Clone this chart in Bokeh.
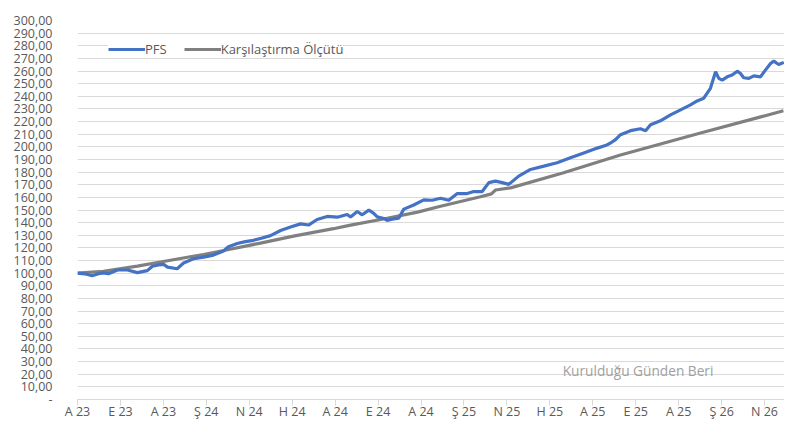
from bokeh.plotting import figure
from bokeh.models import FixedTicker, Legend, LegendItem, Label
from bokeh.embed import file_html
from bokeh.resources import INLINE

# x values are months since August 2023
x_tick_pos = [0, 2, 4, 6, 8, 10, 12, 14, 16, 18, 20, 22, 24, 26, 28, 30, 32]
x_tick_labels = ["A 23", "E 23", "A 23", "Ş 24", "N 24", "H 24", "A 24", "E 24", "A 24",
                 "Ş 25", "N 25", "H 25", "A 25", "E 25", "A 25", "Ş 26", "N 26"]

y_tick_pos = list(range(0, 301, 10))
y_tick_labels = ["-"] + [f"{v},00" for v in range(10, 301, 10)]

pfs_x = [0.00, 0.33, 0.68, 0.98, 1.21, 1.44, 1.86, 2.33, 2.79, 3.25, 3.49, 3.77, 4.01, 4.19,
         4.64, 4.94, 5.40, 5.87, 6.33, 6.80, 7.03, 7.44, 7.82, 8.20, 8.52, 8.99, 9.46, 9.92,
         10.39, 10.76, 11.16, 11.63, 12.10, 12.56, 12.72, 13.03, 13.26, 13.57, 13.80, 13.96,
         14.27, 14.42, 14.66, 14.96, 15.20, 15.66, 16.13, 16.52, 16.91, 17.29, 17.69, 18.15,
         18.46, 18.85, 19.16, 19.47, 19.78, 20.09, 20.55, 21.10, 21.72, 22.34, 22.96, 23.58,
         24.21, 24.59, 24.83, 25.06, 25.29, 25.76, 26.22, 26.46, 26.69, 27.15, 27.62, 28.09,
         28.55, 28.86, 29.17, 29.48, 29.72, 29.87, 30.03, 30.26, 30.49, 30.73, 30.88, 31.03,
         31.27, 31.50, 31.81, 32.04, 32.28, 32.43, 32.66, 32.90]
pfs_y = [100.0, 99.5, 98.0, 99.5, 100.2, 99.6, 102.5, 102.5, 100.4, 102.0, 105.5, 106.5, 107.0, 104.8,
         103.5, 108.0, 111.4, 112.7, 114.3, 117.5, 121.0, 123.5, 125.0, 126.0, 127.5, 129.7, 133.8, 136.5,
         139.0, 138.1, 142.5, 144.9, 144.3, 146.4, 144.5, 148.8, 146.2, 149.9, 147.3, 144.6,
         143.3, 141.8, 142.8, 143.5, 150.7, 154.0, 158.0, 157.7, 159.3, 157.7, 163.0, 163.0,
         164.6, 164.6, 171.7, 172.9, 171.7, 170.3, 176.8, 182.1, 184.7, 187.4, 191.3, 195.2,
         199.0, 201.0, 203.0, 205.7, 209.6, 212.8, 214.3, 212.8, 217.5, 220.6, 225.3, 229.3,
         233.2, 236.3, 238.5, 246.3, 259.4, 254.2, 252.8, 255.4, 256.8, 259.9, 258.1, 254.7,
         254.2, 256.2, 255.4, 260.7, 266.0, 267.8, 265.2, 266.8]

bench_x = [0.00, 1.21, 2.79, 4.33, 5.87, 6.99, 8.52, 10.06, 11.92, 12.72, 14.25, 15.84, 16.91,
           18.77, 19.28, 19.47, 20.17, 22.64, 25.29, 29.02, 32.88]
bench_y = [100.0, 101.5, 105.6, 110.2, 114.8, 118.5, 123.8, 129.3, 135.2, 138.0, 142.9, 148.3, 153.0,
           160.5, 162.8, 165.8, 167.5, 179.5, 193.5, 211.0, 228.5]

FONT = "Open Sans"
TXT = "#595959"

p = figure(width=784, height=422, output_backend="svg", toolbar_location=None,
           x_range=(0, 32.93), y_range=(0, 300),
           min_border_left=77, min_border_right=0, min_border_top=20, min_border_bottom=20)
p.outline_line_color = None
p.background_fill_color = "white"
p.border_fill_color = "white"

p.xgrid.grid_line_color = None
p.ygrid.grid_line_color = "#D9D9D9"
p.ygrid.grid_line_width = 1

p.yaxis.ticker = FixedTicker(ticks=y_tick_pos)
p.yaxis.major_label_overrides = dict(zip(y_tick_pos, y_tick_labels))
p.yaxis.axis_line_color = None
p.yaxis.major_tick_line_color = None
p.yaxis.minor_tick_line_color = None
p.yaxis.major_label_standoff = 19
p.yaxis.major_label_text_font = FONT
p.yaxis.major_label_text_font_size = "12.5px"
p.yaxis.major_label_text_color = TXT

p.xaxis.ticker = FixedTicker(ticks=x_tick_pos)
p.xaxis.major_label_overrides = dict(zip(x_tick_pos, x_tick_labels))
p.xaxis.axis_line_color = "#D9D9D9"
p.xaxis.major_tick_line_color = "#D9D9D9"
p.xaxis.major_tick_out = 6
p.xaxis.major_tick_in = 0
p.xaxis.minor_tick_line_color = None
p.xaxis.major_label_standoff = -3
p.xaxis.major_label_text_font = FONT
p.xaxis.major_label_text_font_size = "12.5px"
p.xaxis.major_label_text_color = TXT

r_bench = p.line(bench_x, bench_y, line_color="#808080", line_width=3.2)
r_pfs = p.line(pfs_x, pfs_y, line_color="#4472C4", line_width=3.2)

legend = Legend(items=[LegendItem(label="PFS", renderers=[r_pfs]),
                       LegendItem(label="Karşılaştırma Ölçütü", renderers=[r_bench])],
                orientation="horizontal", location=(31, 341),
                padding=0, margin=0, spacing=17, glyph_width=37, glyph_height=16,
                label_height=16, label_standoff=0,
                label_text_font=FONT, label_text_font_size="13px", label_text_color=TXT,
                border_line_color=None, background_fill_color="white", background_fill_alpha=1.0)
p.add_layout(legend, "center")

note = Label(x=22.6, y=23.3, text="Kurulduğu Günden Beri", text_font=FONT,
             text_font_size="13.7px", text_color="#A0A0A0", text_baseline="middle", text_align="left")
p.add_layout(note)

open("out.html", "w").write(file_html(p, INLINE))
